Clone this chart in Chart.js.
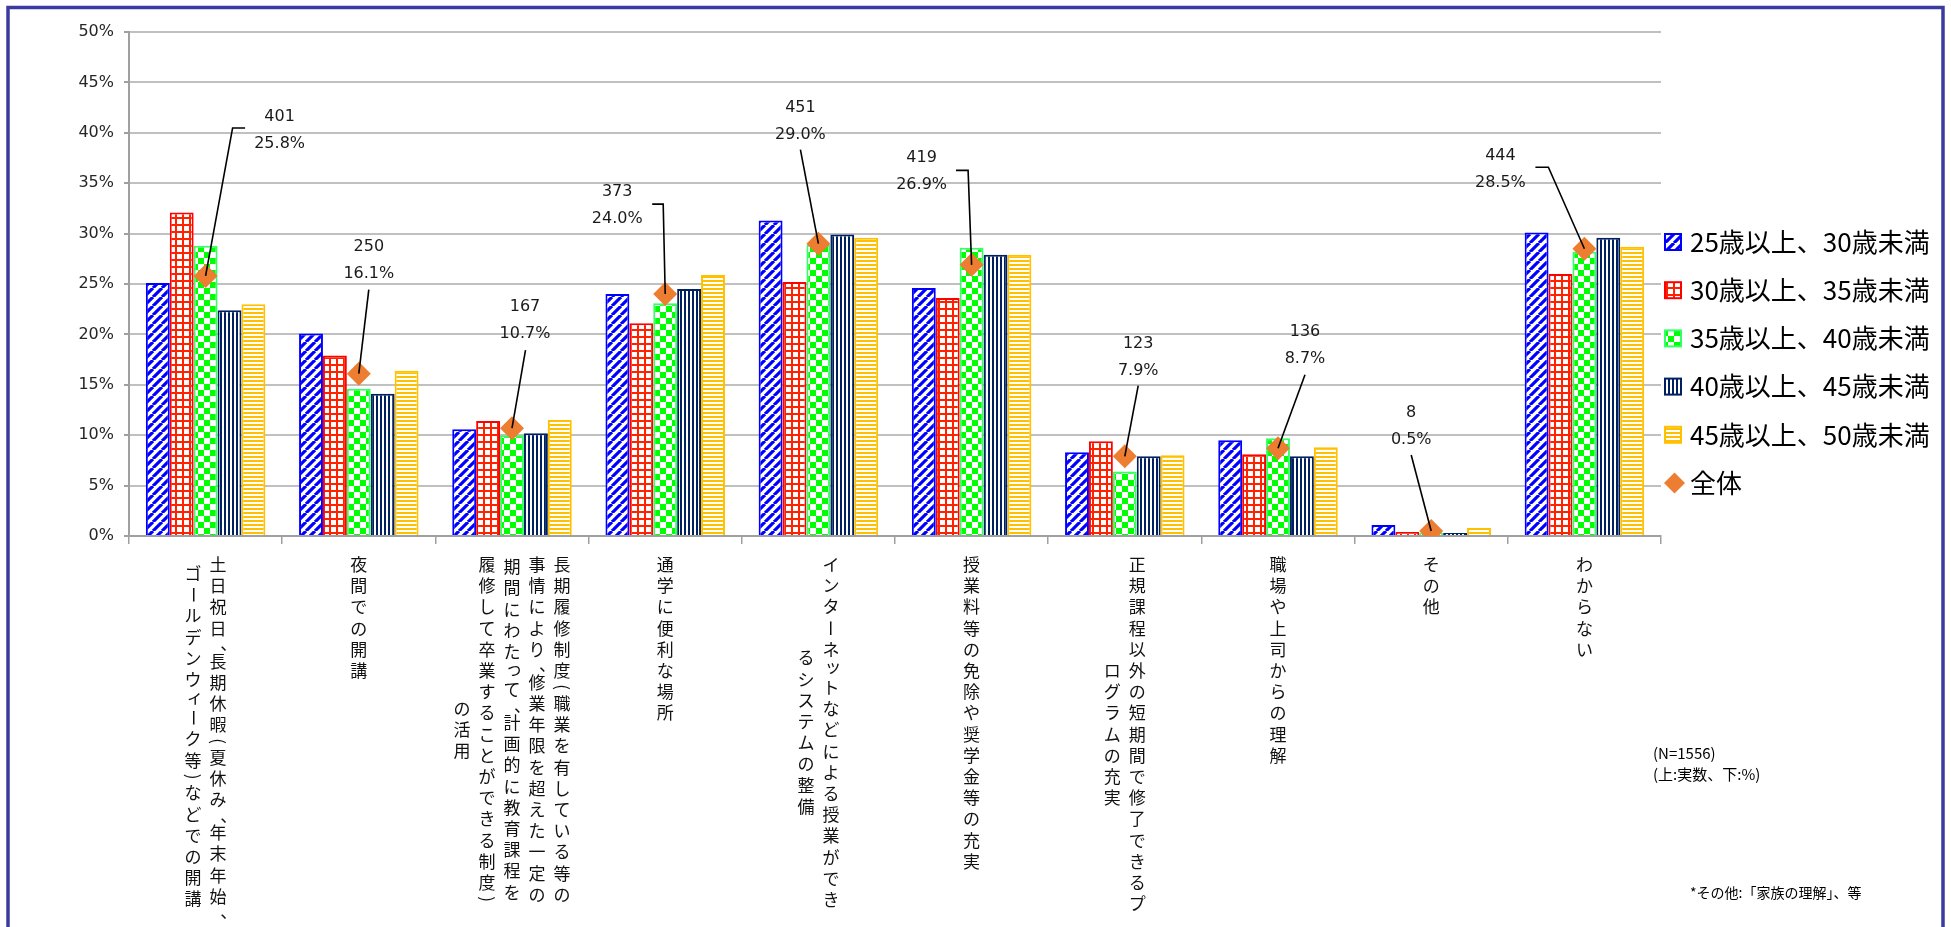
<!DOCTYPE html>
<html lang="ja">
<head>
<meta charset="utf-8">
<title>受講しやすい条件</title>
<script src="https://cdn.jsdelivr.net/npm/chart.js@4.4.1/dist/chart.umd.min.js"></script>
<style>
  html, body { margin: 0; padding: 0; background: #fff; }
  #chart { display: block; }
</style>
</head>
<body>
<canvas id="chart" width="1951" height="927"></canvas>
<script>
// categories: each entry is the list of vertical columns, right to left
const categories = [
  ["土日祝日、長期休暇（夏休み、年末年始、", "ゴールデンウィーク等）などでの開講"],
  ["夜間での開講"],
  ["長期履修制度（職業を有している等の", "事情により、修業年限を超えた一定の", "期間にわたって、計画的に教育課程を", "履修して卒業することができる制度）", "の活用"],
  ["通学に便利な場所"],
  ["インターネットなどによる授業ができ", "るシステムの整備"],
  ["授業料等の免除や奨学金等の充実"],
  ["正規課程以外の短期間で修了できるプ", "ログラムの充実"],
  ["職場や上司からの理解"],
  ["その他"],
  ["わからない"]
];

const seriesNames = ["25歳以上、30歳未満", "30歳以上、35歳未満", "35歳以上、40歳未満", "40歳以上、45歳未満", "45歳以上、50歳未満"];
const age25 = [25.1, 20.1, 10.6, 24.0, 31.3, 24.6, 8.3, 9.5, 1.1, 30.1];
const age30 = [32.1, 17.9, 11.4, 21.1, 25.2, 23.6, 9.4, 8.1, 0.4, 26.0];
const age35 = [28.8, 14.6, 10.0, 23.1, 28.9, 28.6, 6.4, 9.7, 0.3, 28.2];
const age40 = [22.4, 14.1, 10.2, 24.5, 29.9, 27.9, 7.9, 7.9, 0.3, 29.6];
const age45 = [23.0, 16.4, 11.5, 25.9, 29.6, 27.9, 8.0, 8.8, 0.8, 28.7];

const totalName = "全体";
const totalPct = [25.8, 16.1, 10.7, 24.0, 29.0, 26.9, 7.9, 8.7, 0.5, 28.5];
const totalCount = [401, 250, 167, 373, 451, 419, 123, 136, 8, 444];

const yTickValues = [0, 5, 10, 15, 20, 25, 30, 35, 40, 45, 50];
const notes = ["(N=1556)", "(上:実数、下:%)"];
const footnote = "*その他:「家族の理解」、等";

const canvas = document.getElementById('chart');
const ctx = canvas.getContext('2d');

function makePattern(size, draw) {
  const tile = document.createElement('canvas');
  tile.width = size;
  tile.height = size;
  const g = tile.getContext('2d');
  g.fillStyle = '#ffffff';
  g.fillRect(0, 0, size, size);
  draw(g, size);
  return ctx.createPattern(tile, 'repeat');
}

const patterns = [
  makePattern(9, (g, s) => {
    g.strokeStyle = '#0000ff';
    g.lineWidth = 3.2;
    g.beginPath();
    for (let k = -1; k <= 1; k++) {
      g.moveTo(k * s, s);
      g.lineTo(k * s + s, 0);
    }
    g.stroke();
  }),
  makePattern(7, (g, s) => {
    g.fillStyle = '#ff2200';
    g.fillRect(0, 0, s, 2);
    g.fillRect(0, 0, 2, s);
  }),
  makePattern(12, (g) => {
    g.fillStyle = '#00ff00';
    g.fillRect(0, 0, 6, 6);
    g.fillRect(6, 6, 6, 6);
  }),
  makePattern(4, (g, s) => {
    g.fillStyle = '#002060';
    g.fillRect(0, 0, 2, s);
  }),
  makePattern(4, (g, s) => {
    g.fillStyle = '#ffc000';
    g.fillRect(0, 0, s, 2);
  })
];
const borders = ['#0000ff', '#ff0000', '#33ff66', '#002060', '#ffc000'];
const orange = '#ed7d31';

const seriesData = [age25, age30, age35, age40, age45];

// label offsets for the 全体 callouts, relative to each diamond
const callouts = [
  { dx: 74, dy: -159, leader: [[27, -148], [39.5, -148]] },
  { dx: 10, dy: -127, leader: [[10, -84]] },
  { dx: 13, dy: -121, leader: [[13.5, -78]] },
  { dx: -48, dy: -102, leader: [[-2, -90], [-13, -90]] },
  { dx: -18, dy: -136, leader: [[-18, -94]] },
  { dx: -50, dy: -107.5, leader: [[-3.5, -94.5], [-15.6, -94.5]] },
  { dx: 13.4, dy: -113, leader: [[13.4, -70.7]] },
  { dx: 27, dy: -116, leader: [[27, -73.5]] },
  { dx: -20, dy: -118, leader: [[-20, -76]] },
  { dx: -84, dy: -93, leader: [[-36, -81.5], [-49, -81.5]] }
];

const whiteBg = {
  id: 'whiteBg',
  beforeDraw(chart) {
    const c = chart.ctx;
    c.save();
    c.fillStyle = '#fff';
    c.fillRect(0, 0, chart.width, chart.height);
    c.restore();
  }
};

const calloutPlugin = {
  id: 'callouts',
  afterDatasetsDraw(chart) {
    const meta = chart.getDatasetMeta(0);
    const c = chart.ctx;
    c.save();
    c.strokeStyle = '#000';
    c.lineWidth = 1.6;
    c.fillStyle = '#1a1a1a';
    c.font = '16px "DejaVu Sans"';
    c.textAlign = 'center';
    c.textBaseline = 'middle';
    meta.data.forEach((pt, i) => {
      const co = callouts[i];
      c.beginPath();
      c.moveTo(pt.x, pt.y);
      co.leader.forEach(([dx, dy]) => c.lineTo(pt.x + dx, pt.y + dy));
      c.stroke();
      c.fillText(String(totalCount[i]), pt.x + co.dx, pt.y + co.dy);
      c.fillText(totalPct[i].toFixed(1) + '%', pt.x + co.dx, pt.y + co.dy + 27);
    });
    c.restore();
  }
};

// vertical (tategaki) category labels
const PITCH = 21.2, COL_GAP = 25, LABEL_FONT = 17;
const NARROW = '、。（）()';
const SMALL = 'ッィっゃゅょァ';
const ROTATE = '（）()ー';
function advance(ch) {
  if (NARROW.includes(ch)) return PITCH * 0.55;
  if (SMALL.includes(ch)) return PITCH * 0.8;
  return PITCH;
}
function drawTateChar(c, ch, x, y) {
  if (ROTATE.includes(ch)) {
    const glyph = ch === '（' ? '(' : ch === '）' ? ')' : ch;
    c.save();
    c.translate(x, y);
    c.rotate(Math.PI / 2);
    c.fillText(glyph, 0, 0);
    c.restore();
  } else if (ch === '、' || ch === '。') {
    c.fillText(ch, x + 0.62 * LABEL_FONT, y - 0.05 * LABEL_FONT);
  } else if (SMALL.includes(ch)) {
    c.fillText(ch, x + 2, y - 2);
  } else {
    c.fillText(ch, x, y);
  }
}
const tateLabels = {
  id: 'tateLabels',
  afterDraw(chart) {
    const c = chart.ctx;
    const xs = chart.scales.x;
    const top = chart.chartArea.bottom + 18;
    c.save();
    c.fillStyle = '#111';
    c.font = LABEL_FONT + 'px "Noto Sans CJK JP"';
    c.textAlign = 'center';
    c.textBaseline = 'middle';
    categories.forEach((cols, i) => {
      const cx = xs.getPixelForValue(i);
      const lens = cols.map(col => [...col].reduce((s, ch) => s + advance(ch), 0));
      const longest = Math.max(...lens);
      cols.forEach((col, j) => {
        const colX = cx + ((cols.length - 1) / 2 - j) * COL_GAP;
        let y = top + (longest - lens[j]) / 2;
        [...col].forEach(ch => {
          const a = advance(ch);
          drawTateChar(c, ch, colX, y + a / 2);
          y += a;
        });
      });
    });
    c.restore();
  }
};

const sideLegend = {
  id: 'sideLegend',
  afterDraw(chart) {
    const c = chart.ctx;
    const x0 = chart.chartArea.right + 4;
    const y0 = chart.chartArea.top + 210;
    const step = 48.2;
    c.save();
    c.font = '26px "Noto Sans CJK JP"';
    c.textBaseline = 'middle';
    c.textAlign = 'left';
    chart.data.datasets.slice(1).forEach((ds, i) => {
      const cy = y0 + i * step;
      c.fillStyle = ds.backgroundColor;
      c.fillRect(x0, cy - 8, 16, 16);
      c.strokeStyle = ds.borderColor;
      c.lineWidth = 2;
      c.strokeRect(x0, cy - 8, 16, 16);
      c.fillStyle = '#000';
      c.fillText(ds.label, x0 + 25, cy);
    });
    const line = chart.data.datasets[0];
    const cy = y0 + 5 * step;
    const r = 10.5;
    c.fillStyle = orange;
    c.beginPath();
    c.moveTo(x0 + 9.5 - r, cy);
    c.lineTo(x0 + 9.5, cy - r);
    c.lineTo(x0 + 9.5 + r, cy);
    c.lineTo(x0 + 9.5, cy + r);
    c.closePath();
    c.fill();
    c.fillStyle = '#000';
    c.fillText(line.label, x0 + 25, cy);

    // notes
    c.font = '15px "Noto Sans CJK JP"';
    c.fillStyle = '#000';
    c.fillText(notes[0], 1653, 753);
    c.fillText(notes[1], 1653, 774);
    c.font = '14px "Noto Sans CJK JP"';
    c.fillText(footnote, 1690, 893);

    // outer frame
    c.strokeStyle = '#3b3b9f';
    c.lineWidth = 3.5;
    c.strokeRect(8, 7.5, 1935, 1000);
    c.restore();
  }
};

const datasets = [
  {
    type: 'line',
    label: totalName,
    data: totalPct,
    showLine: false,
    pointStyle: 'rectRot',
    pointRadius: 12,
    pointHoverRadius: 12,
    pointBackgroundColor: orange,
    pointBorderColor: orange,
    pointBorderWidth: 0,
    order: 0
  }
].concat(seriesNames.map((name, i) => ({
  type: 'bar',
  label: name,
  data: seriesData[i],
  backgroundColor: patterns[i],
  borderColor: borders[i],
  borderWidth: 2,
  categoryPercentage: 0.78,
  barPercentage: 1.0,
  order: 1
})));

new Chart(ctx, {
  data: {
    labels: categories.map(cols => cols.join('')),
    datasets: datasets
  },
  options: {
    responsive: false,
    animation: false,
    events: [],
    layout: { padding: { left: 20, right: 290, top: 32, bottom: 0 } },
    plugins: {
      legend: { display: false },
      tooltip: { enabled: false }
    },
    scales: {
      x: {
        ticks: { display: false },
        grid: { drawOnChartArea: false, drawTicks: true, tickLength: 8, color: '#a0a0a0', lineWidth: 1.5 },
        border: { color: '#a0a0a0', width: 2 },
        afterFit(scale) { scale.height = 391; }
      },
      y: {
        min: 0,
        max: 50,
        afterBuildTicks(scale) { scale.ticks = yTickValues.map(v => ({ value: v })); },
        ticks: {
          padding: 10,
          color: '#262626',
          font: { family: 'DejaVu Sans', size: 16 },
          callback: v => v + '%'
        },
        grid: { color: '#c0c0c0', lineWidth: 2, tickLength: 5, tickColor: '#a0a0a0' },
        border: { color: '#a0a0a0', width: 2 },
        afterFit(scale) { scale.width = 109; }
      }
    }
  },
  plugins: [whiteBg, calloutPlugin, tateLabels, sideLegend]
});
</script>
</body>
</html>
